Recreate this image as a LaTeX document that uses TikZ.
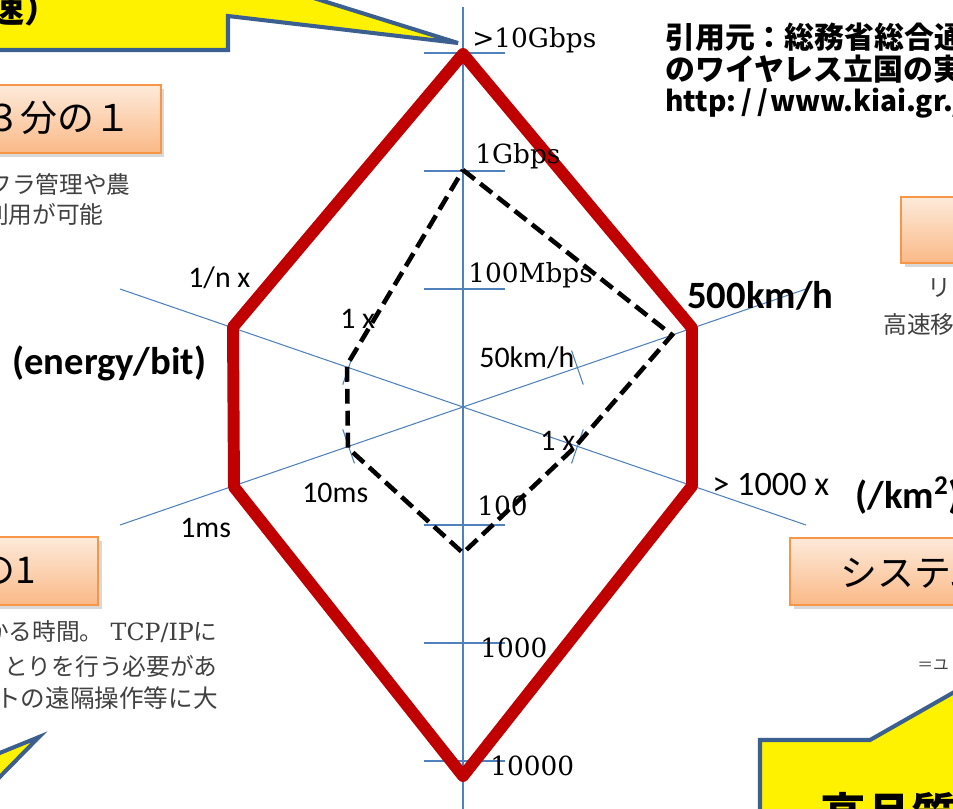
\documentclass[tikz,border=0pt]{standalone}
\usepackage{fontspec}
\setmainfont{DejaVu Serif}
\newfontfamily\calib{Carlito}
\newfontfamily\jpfont{Noto Sans CJK JP}
\usetikzlibrary{shadows}

\definecolor{axisblue}{HTML}{4F81BD}
\definecolor{targetred}{HTML}{C00000}
\definecolor{boxedge}{HTML}{F79646}
\definecolor{boxtop}{HTML}{FDEADA}
\definecolor{boxbottom}{HTML}{FAB987}
\definecolor{calloutedge}{HTML}{3B5F8E}
\definecolor{notegray}{HTML}{404040}

\tikzset{
  axisline/.style={axisblue, line width=0.6pt},
  target/.style={targetred, line width=6.8pt, line join=round},
  current/.style={black, line width=2.6pt, dash pattern=on 8.5pt off 4pt},
  scalelbl/.style={inner sep=0pt, anchor=base west, font=\fontsize{15}{18}\selectfont},
  speclbl/.style={inner sep=0pt, anchor=base west, font=\calib\fontsize{17}{20}\selectfont},
  unitlbl/.style={inner sep=0pt, anchor=base west, font=\calib\bfseries\fontsize{22}{26}\selectfont},
  goalbox/.style={draw=boxedge, line width=1pt, top color=boxtop, bottom color=boxbottom,
    drop shadow={opacity=0.3, shadow xshift=2pt, shadow yshift=-2pt}},
  goaltext/.style={inner sep=0pt, font=\jpfont\fontsize{21}{25}\selectfont},
  note/.style={inner sep=0pt, text=notegray, font=\jpfont\fontsize{13.5}{16}\selectfont},
  srctext/.style={inner sep=0pt, anchor=base west, font=\jpfont\bfseries\fontsize{17}{20}\selectfont},
  callout/.style={draw=calloutedge, fill=yellow, line width=2.3pt, line join=miter},
}

\begin{document}
\begin{tikzpicture}[x=0.02cm, y=-0.02cm]
\useasboundingbox (0,0) rectangle (953,808);
\clip (0,0) rectangle (953,808);

% callouts
\filldraw[callout] (-20,50) -- (228,50) -- (228,16) -- (458,43) -- (288,-10) -- (288,-40) -- (-20,-40) -- cycle;
\node[inner sep=0pt, anchor=base east, font=\jpfont\bfseries\fontsize{20}{24}\selectfont] (calltxt) at (60,22) {速）};
\filldraw[callout] (39,737) -- (-20,761) -- (-20,797) -- cycle;
\filldraw[callout] (760,840) -- (760,740) -- (870,740) -- (1000,666) -- (1000,840) -- cycle;
\node[inner sep=0pt, anchor=base west, font=\jpfont\bfseries\fontsize{26}{30}\selectfont] (qualtxt) at (820,831) {高品質};

% goal boxes
\node[goalbox, minimum width=3.42cm, minimum height=1.36cm] (box1) at (75.5,119) {};
\node[goalbox, minimum width=1.98cm, minimum height=1.32cm] (box2) at (950.5,230) {};
\node[goalbox, minimum width=2.76cm, minimum height=1.36cm] (box3) at (29,571) {};
\node[goalbox, minimum width=4.2cm, minimum height=1.34cm] (box4) at (895,571.5) {};
\node[goaltext, anchor=base east] (box1txt) at (132,131) {３分の１};
\node[goaltext, anchor=base east] (box3txt) at (36,583) {の1};
\node[goaltext, anchor=base west] (box4txt) at (840,586) {システム};

% notes
\node[note, anchor=base east] (n1a) at (131,193) {フラ管理や農};
\node[note, anchor=base east] (n1b) at (104,223) {利用が可能};
\node[note, anchor=base west] (n2a) at (927,296) {リニ};
\node[note, anchor=base west] (n2b) at (883,333) {高速移};
\node[note, anchor=base east] (n3a) at (218,640) {かる時間。\kern4pt{\rmfamily TCP/IP}に};
\node[note, anchor=base east] (n3b) at (218,675) {りとりを行う必要があ};
\node[note, anchor=base east, font=\jpfont\fontsize{14}{16}\selectfont] (n3c) at (218,707) {トの遠隔操作等に大};
\node[note, anchor=base west, font=\jpfont\fontsize{9}{11}\selectfont] (n4) at (917,670) {＝ユ};

% source
\node[srctext] (src1) at (665,48) {引用元：総務省総合通};
\node[srctext] (src2) at (665,80) {のワイヤレス立国の実};
\node[srctext, font=\jpfont\bfseries\fontsize{16}{20}\selectfont] (src3) at (665,111) {http:\kern3pt/\kern3pt/\kern1pt www.kiai.gr.jp/j};

% axes
\coordinate (c) at (463,407);
\coordinate (axtop) at (463,7);
\coordinate (axbot) at (463,815);
\coordinate (axul) at (120,289);
\coordinate (axlr) at (806,525);
\coordinate (axll) at (120,525);
\coordinate (axur) at (806,289);
\draw[axisline] (axtop) -- (axbot);
\draw[axisline] (axul) -- (axlr);
\draw[axisline] (axll) -- (axur);
\foreach \k in {-3,-2,-1,1,2,3}
  \draw[axisline] (424,407+118*\k) -- (505,407+118*\k);
\foreach \a in {19,161,199,341}
  \foreach \r in {121,242}
    \draw[axisline, shift={(c)}, rotate=\a] (\r,-18) -- (\r,18);

% target
\coordinate (rtop) at (463,54);
\coordinate (rur) at (692,328);
\coordinate (rlr) at (692,486);
\coordinate (rbot) at (463,776);
\coordinate (rll) at (234,487);
\coordinate (rul) at (233,327);
\draw[target] (rtop) -- (rur) -- (rlr) -- (rbot) -- (rll) -- (rul) -- cycle;

% current
\coordinate (dtop) at (463,170);
\coordinate (dur) at (672,335);
\coordinate (dlr) at (574,448);
\coordinate (dbot) at (463,553);
\coordinate (dll) at (348,448);
\coordinate (dul) at (347,365);
\draw[current] (dtop) -- (dur) -- (dlr) -- (dbot) -- (dll) -- (dul) -- cycle;

% scale labels
\node[scalelbl] (g10) at (472,47) {>10Gbps};
\node[scalelbl] (g1) at (475,163) {1Gbps};
\node[scalelbl] (m100) at (468,282) {100Mbps};
\node[scalelbl] (s100) at (477,515) {100};
\node[scalelbl] (s1000) at (480,657) {1000};
\node[scalelbl] (s10000) at (490,775) {10000};
\node[speclbl] (e1n) at (188,287) {1/n x};
\node[speclbl] (e1) at (340,328) {1 x};
\node[speclbl] (t10) at (302,502) {10ms};
\node[speclbl] (t1) at (180,537) {1ms};
\node[speclbl] (v50) at (479,367) {50km/h};
\node[speclbl] (d1) at (540,450) {1 x};
\node[speclbl, font=\calib\fontsize{19.5}{23}\selectfont] (d1000) at (712,495) {> 1000 x};
\node[unitlbl] (v500) at (687,308) {500km/h};
\node[unitlbl] (ebit) at (12,374) {(energy/bit)};
\node[unitlbl] (dkm) at (855,508) {(/km\textsuperscript{2})};
\end{tikzpicture}
\end{document}
